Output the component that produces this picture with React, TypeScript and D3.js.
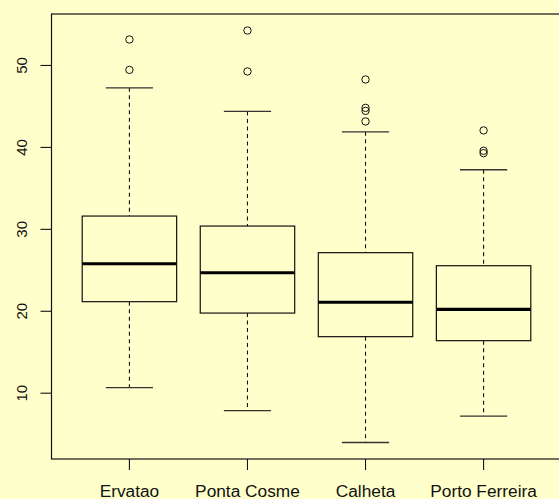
import React from "react";
import * as d3 from "d3";

// Sites along the x axis
const sites = ["Ervatao", "Ponta Cosme", "Calheta", "Porto Ferreira"];

// Five-number summaries per site
const lowerWhisker = [10.68, 7.88, 3.98, 7.2];
const q1 = [21.17, 19.78, 16.9, 16.41];
const median = [25.8, 24.7, 21.1, 20.24];
const q3 = [31.62, 30.4, 27.15, 25.56];
const upperWhisker = [47.27, 44.39, 41.9, 37.27];

// Points beyond the whiskers
const outliers = [
  [53.17, 49.46],
  [54.27, 49.27],
  [48.29, 44.83, 44.46, 43.17],
  [42.07, 39.59, 39.3],
];

const yTicks = [10, 20, 30, 40, 50];

const W = 559;
const H = 499;
const plotLeft = 51.5;
const plotRight = 561.5;
const plotTop = 14;
const plotBottom = 459;

export default function App() {
  const n = sites.length;
  // R-style 4% padding around [0.5, n + 0.5]
  const xPad = n * 0.04;
  const x = d3
    .scaleLinear()
    .domain([0.5 - xPad, n + 0.5 + xPad])
    .range([plotLeft, plotRight]);

  const allVals = [...lowerWhisker, ...upperWhisker, ...outliers.flat()];
  const lo = d3.min(allVals) as number;
  const hi = d3.max(allVals) as number;
  const yPad = (hi - lo) * 0.04;
  const y = d3
    .scaleLinear()
    .domain([lo - yPad, hi + yPad])
    .range([plotBottom, plotTop]);

  const halfBox = x(1.4) - x(1);
  const halfStaple = halfBox / 2;
  const ink = "#111";
  const font = "'Liberation Sans', Arial, Helvetica, sans-serif";

  return (
    <svg
      width={W}
      height={H}
      style={{ position: "absolute", left: 0, top: 0, display: "block" }}
    >
      <rect x={0} y={0} width={W} height={H} fill="#FFFFCC" />

      {sites.map((s, i) => {
        const cx = x(i + 1);
        return (
          <g key={s}>
            {/* whiskers */}
            <line
              x1={cx}
              x2={cx}
              y1={y(upperWhisker[i])}
              y2={y(q3[i])}
              stroke={ink}
              strokeWidth={1.1}
              strokeDasharray="4,3.5"
            />
            <line
              x1={cx}
              x2={cx}
              y1={y(q1[i])}
              y2={y(lowerWhisker[i])}
              stroke={ink}
              strokeWidth={1.1}
              strokeDasharray="4,3.5"
            />
            {/* staples */}
            <line
              x1={cx - halfStaple}
              x2={cx + halfStaple}
              y1={y(upperWhisker[i])}
              y2={y(upperWhisker[i])}
              stroke="#333"
              strokeWidth={1.3}
            />
            <line
              x1={cx - halfStaple}
              x2={cx + halfStaple}
              y1={y(lowerWhisker[i])}
              y2={y(lowerWhisker[i])}
              stroke="#333"
              strokeWidth={1.3}
            />
            {/* box */}
            <rect
              x={cx - halfBox}
              y={y(q3[i])}
              width={halfBox * 2}
              height={y(q1[i]) - y(q3[i])}
              fill="none"
              stroke={ink}
              strokeWidth={1.2}
            />
            {/* median */}
            <line
              x1={cx - halfBox}
              x2={cx + halfBox}
              y1={y(median[i])}
              y2={y(median[i])}
              stroke="#000"
              strokeWidth={3.2}
            />
            {outliers[i].map((v, j) => (
              <circle
                key={j}
                cx={cx}
                cy={y(v)}
                r={3.7}
                fill="none"
                stroke={ink}
                strokeWidth={1}
              />
            ))}
          </g>
        );
      })}

      {/* plot frame */}
      <rect
        x={plotLeft}
        y={plotTop}
        width={plotRight - plotLeft}
        height={plotBottom - plotTop}
        fill="none"
        stroke={ink}
        strokeWidth={1.2}
      />

      {/* y axis ticks and labels */}
      {yTicks.map((t) => (
        <g key={t}>
          <line
            x1={plotLeft - 11}
            x2={plotLeft}
            y1={y(t)}
            y2={y(t)}
            stroke={ink}
            strokeWidth={1.1}
          />
          <text
            transform={`translate(26.5, ${y(t)}) rotate(-90)`}
            textAnchor="middle"
            fontFamily={font}
            fontSize={15}
            fill="#111"
          >
            {t}
          </text>
        </g>
      ))}

      {/* x axis ticks and labels */}
      {sites.map((s, i) => (
        <g key={s}>
          <line
            x1={x(i + 1)}
            x2={x(i + 1)}
            y1={plotBottom}
            y2={plotBottom + 11}
            stroke={ink}
            strokeWidth={1.1}
          />
          <text
            x={x(i + 1)}
            y={496.5}
            textAnchor="middle"
            fontFamily={font}
            fontSize={17.3}
            fill="#111"
          >
            {s}
          </text>
        </g>
      ))}
    </svg>
  );
}
